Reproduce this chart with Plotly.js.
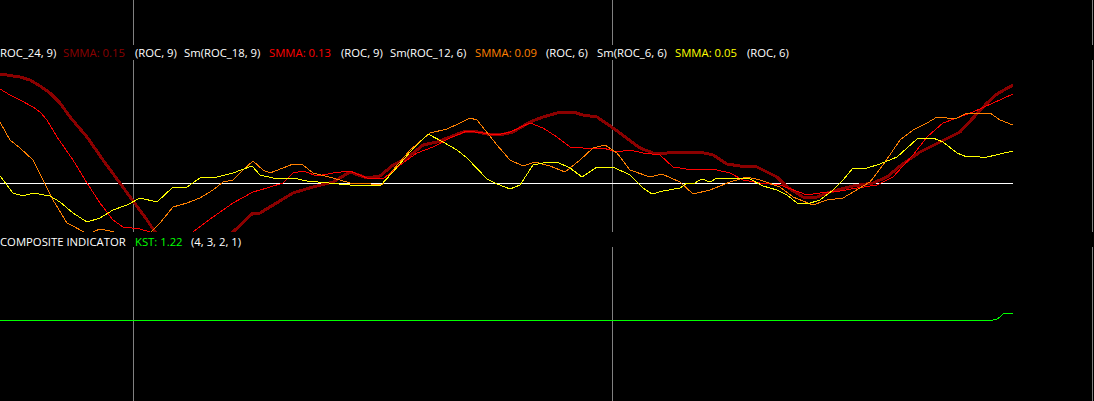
<!DOCTYPE html>
<html>
<head>
<meta charset="utf-8">
<script src="https://cdn.plot.ly/plotly-3.0.1.min.js"></script>
<style>
  html, body { margin: 0; padding: 0; background: #000; overflow: hidden; }
  #chart { width: 1094px; height: 401px; }
  #chart path.js-line { shape-rendering: crispEdges; }
</style>
</head>
<body>
<div id="chart"></div>
<script>
// ---- data (x = bar position, y = indicator value) ----
const roc24X = [0, 2, 3, 4, 5, 6, 7, 8.7, 10.3, 12, 13.3, 14.7, 15.5, 17, 19, 21, 23.3, 25.3, 26, 27.7, 29.3, 31.3, 33.3, 35, 36.7, 38, 39.3, 40.7, 42.3, 43.7, 45, 46.3, 47.3, 48.7, 50, 51.3, 53, 54.3, 55.7, 57.3, 58.3, 59.7, 61.3, 62.7, 64, 65.3, 66.7, 68, 70, 71.3, 72.7, 74, 75.7, 76.7, 77.7, 78.7, 80.3, 81.7, 83, 85.3, 87.3, 88.7, 90, 92, 94, 96, 97.3, 98.7, 99.7, 101.3];
const roc24Y = [0.1635, 0.159, 0.1545, 0.1455, 0.135, 0.12, 0.099, 0.069, 0.0345, 0, -0.0255, -0.0555, -0.0735, -0.1005, -0.1155, -0.1065, -0.0735, -0.045, -0.045, -0.03, -0.015, -0.006, 0.0015, 0.0165, 0.0075, 0.0105, 0.027, 0.0375, 0.057, 0.0615, 0.069, 0.0765, 0.078, 0.0735, 0.072, 0.0765, 0.0915, 0.099, 0.105, 0.1065, 0.102, 0.099, 0.0825, 0.0675, 0.0525, 0.045, 0.045, 0.0465, 0.0465, 0.042, 0.0285, 0.0255, 0.024, 0.0165, 0.009, -0.006, -0.021, -0.021, -0.0135, -0.0045, 0, 0.009, 0.0255, 0.0465, 0.0615, 0.0765, 0.0975, 0.12, 0.1335, 0.147];

const roc18X = [0, 1, 2, 3.3, 4, 4.7, 5.7, 7.3, 8.7, 10, 11.3, 12.3, 14, 15, 16.5, 18, 19.3, 21.3, 23.3, 25.3, 26.7, 28.3, 29.3, 30.3, 31.7, 33.3, 35, 36.7, 38.3, 40, 41.7, 43.3, 45, 46.7, 48.3, 49.7, 51, 53, 54.3, 55.7, 57, 58.3, 60.3, 61.7, 63, 64.3, 66, 67.3, 69.3, 70.3, 71.7, 73, 74.3, 76, 78, 79.3, 80.7, 82, 84, 85.7, 87.7, 89.3, 91.3, 92.7, 94.3, 95.7, 97.3, 99.3, 101.3];
const roc18Y = [0.141, 0.132, 0.1245, 0.114, 0.1065, 0.0945, 0.069, 0.0345, 0, -0.03, -0.0555, -0.066, -0.069, -0.0735, -0.0825, -0.0825, -0.0735, -0.051, -0.03, -0.0135, -0.0075, 0, 0.015, 0.018, 0.0105, 0.015, 0.018, 0.0075, 0.006, 0.027, 0.045, 0.054, 0.0675, 0.078, 0.075, 0.072, 0.0765, 0.09, 0.0825, 0.069, 0.054, 0.0525, 0.0525, 0.0465, 0.0495, 0.045, 0.042, 0.024, 0.0195, 0.021, 0.0195, 0.015, 0.0045, 0, -0.003, -0.0105, -0.018, -0.015, -0.012, -0.0075, -0.003, 0.009, 0.042, 0.069, 0.09, 0.0975, 0.1065, 0.12, 0.1335];

const roc12X = [0, 1, 2, 3.3, 4.3, 5.3, 6.7, 8, 8.8, 10, 11, 13, 15, 15.3, 16, 17.3, 18.7, 20, 21.3, 22.3, 23.3, 24.3, 25.3, 26.3, 27, 28.3, 29.3, 30.3, 31.3, 33.3, 35, 36, 38.2, 39.3, 41, 43, 44.7, 46, 47, 47.7, 48.7, 49.7, 51, 52.3, 53.5, 55, 56.5, 58, 59.3, 60.5, 61.7, 63, 65, 66.2, 68, 69.3, 71, 73, 74.7, 76, 78, 79.3, 81.3, 82.7, 84.3, 85.7, 87, 88.3, 90, 91.3, 92.7, 93.7, 94.7, 95.7, 96.7, 99, 100, 101.3];
const roc12Y = [0.0915, 0.0645, 0.0525, 0.0345, 0.0045, -0.0255, -0.06, -0.0705, -0.0765, -0.069, -0.072, -0.0795, -0.075, -0.0705, -0.06, -0.036, -0.03, -0.0225, -0.0105, 0.0015, 0.0045, 0.0195, 0.033, 0.0195, 0.015, 0.0225, 0.0285, 0.027, 0.015, 0.0075, 0, 0, -0.003, 0.0195, 0.0495, 0.075, 0.081, 0.09, 0.0975, 0.0945, 0.075, 0.057, 0.0345, 0.0255, 0.0315, 0.0255, 0.0165, 0.0345, 0.0525, 0.057, 0.045, 0.0195, 0.009, 0.0135, 0.0015, -0.0165, -0.0105, 0.0015, 0.009, 0.0045, -0.006, -0.021, -0.033, -0.0255, -0.0225, -0.0105, 0.0015, 0.027, 0.0645, 0.0795, 0.09, 0.099, 0.0975, 0.0975, 0.105, 0.105, 0.0945, 0.087];

const roc6X = [0, 0.7, 1.3, 2.3, 3.3, 5, 6, 7.3, 8.7, 10, 11.3, 12.7, 14, 15.7, 17.3, 18.7, 20, 21.7, 23.3, 25.2, 26, 27.3, 29.3, 30.7, 32, 33.3, 35, 38, 39.3, 41, 42.8, 44.3, 45.7, 46.7, 47.7, 48.7, 49.7, 51, 52, 53.3, 54.3, 55.7, 57, 58.2, 59.7, 61.3, 63, 64.3, 65.2, 66.3, 68, 68.7, 69.3, 70.2, 71, 71.7, 73.7, 75, 76.3, 77.7, 78.7, 79.7, 80.7, 82, 83.3, 84.3, 85.3, 86.7, 88, 89.7, 91.7, 93.3, 94.3, 95.7, 96.7, 97.7, 98.3, 100, 101.3];
const roc6Y = [0.0105, -0.003, -0.015, -0.0195, -0.015, -0.0195, -0.0285, -0.045, -0.0585, -0.0525, -0.0405, -0.033, -0.0225, -0.0285, -0.006, -0.006, 0.0075, 0.009, 0.015, 0.0255, 0.012, 0.0075, 0.0075, 0.003, 0.0015, 0, -0.003, -0.0045, 0.0165, 0.0465, 0.0735, 0.0615, 0.0495, 0.0375, 0.0225, 0.006, -0.0015, -0.009, -0.003, 0.027, 0.03, 0.0315, 0.0225, 0.009, 0.024, 0.024, 0.012, -0.0075, -0.0165, -0.012, -0.0075, 0, -0.0015, 0.006, 0.0015, 0.0075, 0.0075, 0.006, -0.0045, -0.0105, -0.018, -0.03, -0.0315, -0.0255, -0.0105, 0.0045, 0.0225, 0.0225, 0.0285, 0.039, 0.066, 0.0675, 0.0615, 0.045, 0.039, 0.0405, 0.0375, 0.0435, 0.048];

const kstX = [0, 99.3, 99.7, 100, 100.3, 100.6, 100.9, 101.3];
const kstY = [0, 0, 0.2, 0.6, 1.2, 1.4, 1.35, 1.22];

const zeroX = [0, 101.3];
const zeroY = [0, 0];

const legendTop = [
  {text: 'ROC_24, 9)', color: '#FFFFFF'},
  {text: 'SMMA: 0.15', color: '#8B0000'},
  {text: '(ROC, 9)', color: '#FFFFFF'},
  {text: 'Sm(ROC_18, 9)', color: '#FFFFFF'},
  {text: 'SMMA: 0.13', color: '#FF0000'},
  {text: '(ROC, 9)', color: '#FFFFFF'},
  {text: 'Sm(ROC_12, 6)', color: '#FFFFFF'},
  {text: 'SMMA: 0.09', color: '#FF8000'},
  {text: '(ROC, 6)', color: '#FFFFFF'},
  {text: 'Sm(ROC_6, 6)', color: '#FFFFFF'},
  {text: 'SMMA: 0.05', color: '#FFFF00'},
  {text: '(ROC, 6)', color: '#FFFFFF'}
];
const legendBottom = [
  {text: 'COMPOSITE INDICATOR', color: '#FFFFFF'},
  {text: 'KST: 1.22', color: '#00FF00'},
  {text: '(4, 3, 2, 1)', color: '#FFFFFF'}
];

// ---- layout helpers (pixel positions of the legend pieces) ----
const W = 1094, H = 401;
const topLeftPx = [-2, 61, 133, 182, 267, 339, 388, 473, 544, 595, 673, 745];
const botLeftPx = [-2, 133, 189];
const fontFam = '"Open Sans", "Noto Sans", sans-serif';
const fontSize = 11.3;

const annotations = [];
legendTop.forEach((d, i) => {
  annotations.push({
    xref: 'paper', yref: 'paper', x: topLeftPx[i] / W, y: 1 - 53 / H,
    xanchor: 'left', yanchor: 'middle', showarrow: false,
    text: d.text, font: {family: fontFam, size: fontSize, color: d.color}
  });
});
legendBottom.forEach((d, i) => {
  annotations.push({
    xref: 'paper', yref: 'paper', x: botLeftPx[i] / W, y: 1 - 241 / H,
    xanchor: 'left', yanchor: 'middle', showarrow: false,
    text: d.text, font: {family: fontFam, size: fontSize, color: d.color}
  });
});

const vline = (px) => ({
  type: 'line', xref: 'paper', yref: 'paper', x0: (px + 0.5) / W, x1: (px + 0.5) / W, y0: 0, y1: 1,
  line: {color: '#808080', width: 1}, layer: 'below'
});
const band = (py0, py1) => ({
  type: 'rect', xref: 'paper', yref: 'paper', x0: 0, x1: 1, y0: 1 - py1 / H, y1: 1 - py0 / H,
  fillcolor: '#000000', line: {width: 0}, layer: 'above'
});

const splitY = 1 - 232 / H;
const pxPerBar = 10;

const traces = [
  {x: zeroX, y: zeroY, mode: 'lines', line: {color: '#FFFFFF', width: 1}, yaxis: 'y', hoverinfo: 'skip'},
  {x: roc24X, y: roc24Y, mode: 'lines', line: {color: '#8B0000', width: 3}, yaxis: 'y', hoverinfo: 'skip'},
  {x: roc18X, y: roc18Y, mode: 'lines', line: {color: '#FF0000', width: 1}, yaxis: 'y', hoverinfo: 'skip'},
  {x: roc12X, y: roc12Y, mode: 'lines', line: {color: '#FF8000', width: 1}, yaxis: 'y', hoverinfo: 'skip'},
  {x: roc6X, y: roc6Y, mode: 'lines', line: {color: '#FFFF00', width: 1}, yaxis: 'y', hoverinfo: 'skip'},
  {x: kstX, y: kstY, mode: 'lines', line: {color: '#00FF00', width: 1}, yaxis: 'y2', hoverinfo: 'skip'}
];

const layout = {
  width: W, height: H,
  margin: {l: 0, r: 0, t: 0, b: 0, pad: 0},
  paper_bgcolor: '#000000', plot_bgcolor: '#000000',
  showlegend: false,
  xaxis: {range: [0, W / pxPerBar], visible: false, showgrid: false, zeroline: false, fixedrange: true},
  yaxis: {domain: [splitY, 1], range: [-49 * 0.0015, 183 * 0.0015], visible: false, showgrid: false, zeroline: false},
  yaxis2: {domain: [0, splitY], range: [-16.2, 17.6], visible: false, showgrid: false, zeroline: false},
  shapes: [vline(133), vline(612), vline(1092), band(45, 60), band(232, 247)],
  annotations: annotations
};

Plotly.newPlot('chart', traces, layout, {staticPlot: true, displayModeBar: false});
</script>
</body>
</html>
